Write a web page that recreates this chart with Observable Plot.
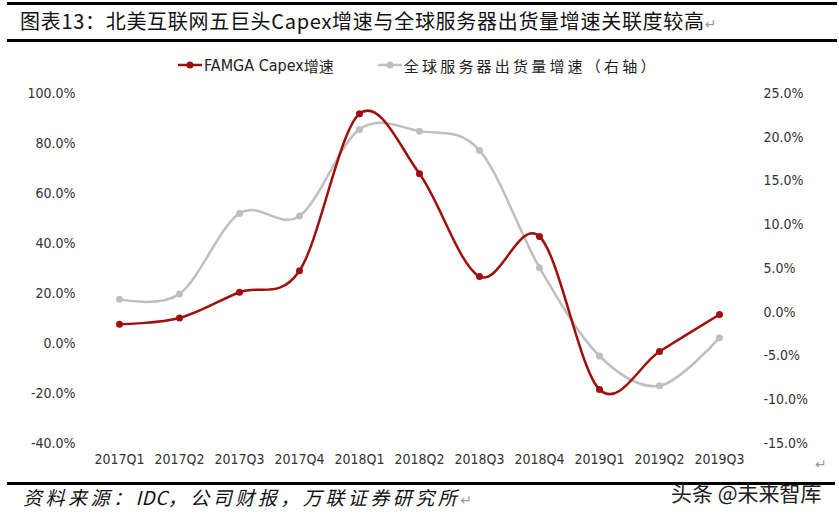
<!DOCTYPE html>
<html>
<head>
<meta charset="utf-8">
<script src="https://cdn.jsdelivr.net/npm/d3@7"></script>
<script src="https://cdn.jsdelivr.net/npm/@observablehq/plot@0.6"></script>
<style>
  html, body { margin: 0; padding: 0; background: #fff; }
  #wrap { position: relative; width: 839px; height: 521px; overflow: hidden; background: #fff; font-family: "Noto Sans CJK SC", sans-serif; }
  .rule { position: absolute; background: #000; }
  #title { position: absolute; left: 20px; top: 10px; font-size: 20px; line-height: 22px; color: #111; white-space: nowrap; letter-spacing: 0.7px; }
  .ret { color: #999; font-family: "DejaVu Sans", sans-serif; font-size: 14px; letter-spacing: 0; }
  #legend { position: absolute; left: 178px; top: 54px; height: 22px; display: flex; align-items: center; font-size: 15px; color: #222; white-space: nowrap; }
  #legend .item { display: flex; align-items: center; }
  #legend svg { margin-right: 2px; }
  .lat { font-family: "Liberation Sans Narrow", "DejaVu Sans Condensed", "Liberation Sans", sans-serif; font-size: 16px; }
  #chart { position: absolute; left: 0; top: 75px; }
  #source { position: absolute; left: 23px; top: 485px; font-size: 19px; line-height: 24px; font-style: italic; color: #111; white-space: nowrap; letter-spacing: 3.5px; }
  #brand { position: absolute; left: 671px; top: 479px; font-size: 21px; line-height: 26px; color: #222; white-space: nowrap; }
  #ret2 { position: absolute; left: 815px; top: 456px; }
</style>
</head>
<body>
<div id="wrap">
  <div class="rule" style="left:7px; top:2px; width:830px; height:3px;"></div>
  <div id="title">图表13：北美互联网五巨头Capex增速与全球服务器出货量增速关联度较高<span class="ret">↵</span></div>
  <div class="rule" style="left:7px; top:39px; width:830px; height:3px;"></div>
  <div id="legend"></div>
  <div id="chart"></div>
  <div id="ret2" class="ret">↵</div>
  <div class="rule" style="left:7px; top:482px; width:828px; height:3px;"></div>
  <div id="source">资料来源：<span style="letter-spacing:0.5px">IDC</span>，公司财报，万联证券研究所<span class="ret" style="font-style:normal">↵</span></div>
  <div id="brand">头条 @未来智库</div>
</div>
<script>
// ---- data ----
const quarters = ["2017Q1","2017Q2","2017Q3","2017Q4","2018Q1","2018Q2","2018Q3","2018Q4","2019Q1","2019Q2","2019Q3"];
const famgaCapex = [7.7, 10.2, 20.5, 29.1, 91.9, 67.9, 26.8, 42.8, -18.4, -3.2, 11.6];      // left axis, %
const serverShip = [1.5, 2.1, 11.3, 11.0, 20.9, 20.7, 18.5, 5.1, -5.0, -8.4, -2.9];         // right axis, %
const leftTicks = [-40, -20, 0, 20, 40, 60, 80, 100];
const rightTicks = [-15, -10, -5, 0, 5, 10, 15, 20, 25];
const seriesNames = ["FAMGA Capex增速", "全球服务器出货量增速（右轴）"];
const seriesColors = ["#A00F0F", "#BFBFBF"];

// right axis [-15,25] mapped onto left axis [-40,100]
const toLeft = v => (v + 15) * 3.5 - 40;
const fromLeft = v => (v + 40) / 3.5 - 15;
const fmt = v => { const r = Math.round(v * 10) / 10; return (r === 0 ? 0 : r).toFixed(1) + "%"; };

const famgaRows = quarters.map((q, i) => ({q, v: famgaCapex[i]}));
const serverRows = quarters.map((q, i) => ({q, v: toLeft(serverShip[i])}));

const chart = Plot.plot({
  width: 839,
  height: 400,
  marginLeft: 88,
  marginRight: 89,
  marginTop: 18,
  marginBottom: 32,
  style: { fontFamily: '"Liberation Sans Narrow", "DejaVu Sans Condensed", "Liberation Sans", sans-serif', fontSize: "14px", color: "#333", background: "transparent" },
  x: { type: "point", domain: quarters, padding: 0.5 },
  y: { domain: [-40, 100] },
  marks: [
    Plot.axisX({ tickSize: 0, tickPadding: 11, label: null }),
    Plot.axisY(leftTicks, { anchor: "left", tickSize: 0, tickPadding: 13, tickFormat: fmt, label: null }),
    Plot.axisY(rightTicks.map(toLeft), { anchor: "right", tickSize: 0, tickPadding: 13, tickFormat: v => fmt(fromLeft(v)), label: null }),
    Plot.line(serverRows, { x: "q", y: "v", stroke: seriesColors[1], strokeWidth: 2.5, curve: "cardinal", tension: 0 }),
    Plot.dot(serverRows, { x: "q", y: "v", fill: seriesColors[1], r: 3.5 }),
    Plot.line(famgaRows, { x: "q", y: "v", stroke: seriesColors[0], strokeWidth: 2.5, curve: "cardinal", tension: 0 }),
    Plot.dot(famgaRows, { x: "q", y: "v", fill: seriesColors[0], r: 3.5 })
  ]
});
document.getElementById("chart").appendChild(chart);

// legend
const legend = document.getElementById("legend");
seriesNames.forEach((name, i) => {
  const item = document.createElement("div");
  item.className = "item";
  item.style.marginRight = i === 0 ? "44px" : "0";
  const sw = `<svg width="24" height="10"><line x1="0" y1="5" x2="24" y2="5" stroke="${seriesColors[i]}" stroke-width="2.5"/><circle cx="12" cy="5" r="3.5" fill="${seriesColors[i]}"/></svg>`;
  let label;
  if (i === 0) label = `<span class="lat">FAMGA Capex</span>增速`;
  else label = `<span style="letter-spacing:3.2px">${name}</span>`;
  item.innerHTML = sw + label;
  legend.appendChild(item);
});
</script>
</body>
</html>
